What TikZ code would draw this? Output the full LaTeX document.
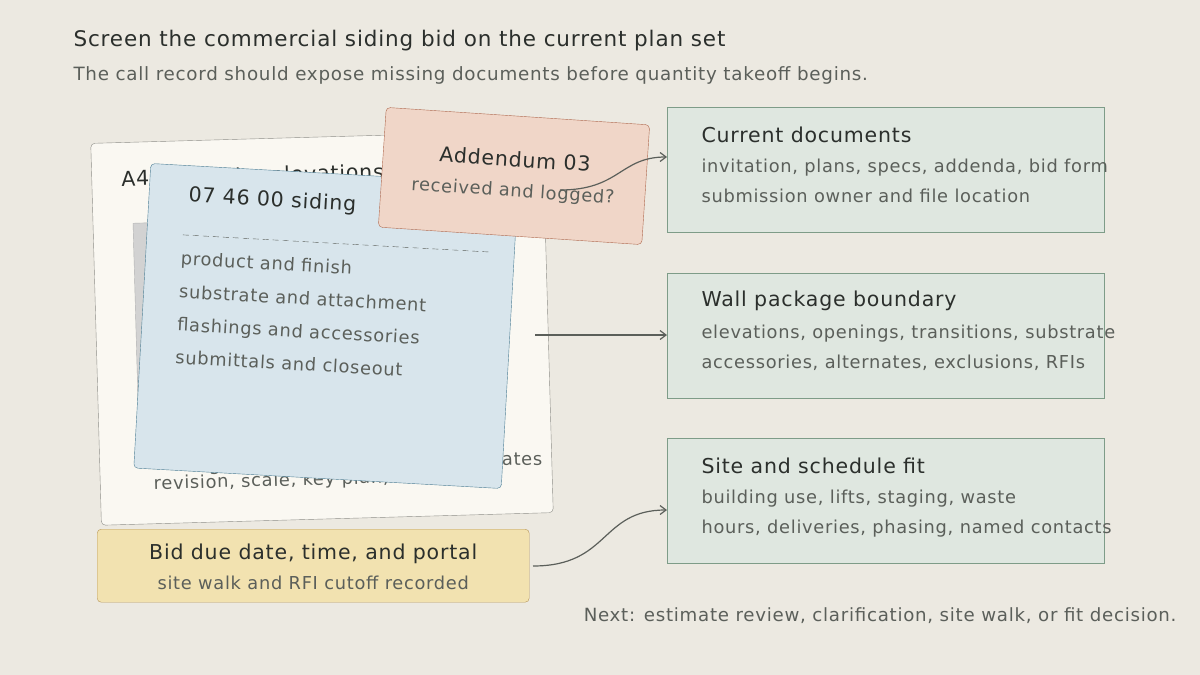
\documentclass[tikz,border=0pt]{standalone}
\usepackage{fontspec}
\setmainfont{DejaVu Sans}[LetterSpace=4]
\usetikzlibrary{arrows.meta}
\definecolor{bg}{HTML}{ECE9E1}
\definecolor{ink}{HTML}{2B2F2C}
\definecolor{sub}{HTML}{5B5F5A}
\definecolor{gfill}{HTML}{DFE7E0}
\definecolor{gline}{HTML}{7E9C88}
\definecolor{bfill}{HTML}{D8E5EC}
\definecolor{bline}{HTML}{4E7F95}
\definecolor{rfill}{HTML}{F0D6C8}
\definecolor{rline}{HTML}{B06A50}
\definecolor{yfill}{HTML}{F2E2B0}
\definecolor{yline}{HTML}{B8975A}
\definecolor{pfill}{HTML}{FAF8F2}
\definecolor{pline}{HTML}{8E8E88}
\begin{document}
\begin{tikzpicture}[x=1pt,y=-1pt,
  box/.style={draw=gline,fill=gfill,line width=0.8pt,minimum width=437pt,minimum height=125pt,anchor=north west},
  h/.style={font=\fontsize{20.5}{24}\selectfont,text=ink},
  t/.style={font=\fontsize{17.8}{30}\selectfont,text=sub},
  conn/.style={draw=sub,line width=1.2pt,-{Straight Barb[length=6pt,width=9pt]}}]
\fill[bg] (0,0) rectangle (1200,675);
\useasboundingbox (0,0) rectangle (1200,675);
\node[anchor=west,font=\fontsize{21.5}{24}\selectfont,text=ink] (title) at (70,41) {Screen the commercial siding bid on the current plan set};
\node[anchor=west,font=\fontsize{18.3}{20}\selectfont,text=sub] (subt) at (70,75) {The call record should expose missing documents before quantity takeoff begins.};
% back sheet
\begin{scope}[shift={(322,328)},rotate=1.6,transform shape]
\node[draw=pline,fill=pfill,rounded corners=4pt,minimum width=452pt,minimum height=382pt] (sheet) at (0,0) {};
\fill[gray!35,draw=gray!60] (-186,-110) rectangle (170,132);
\node[anchor=west,h] (st) at (-200,-155) {A4.2 exterior elevations};
\node[anchor=east,t] (sb1) at (220,138) {sheet index, key plan, notes, dates};
\node[anchor=west,t] (sb2) at (-176,152) {revision, scale, key plan, notes};
\end{scope}
% blue card
\begin{scope}[shift={(326,326)},rotate=-3.2,transform shape]
\node[draw=bline,fill=bfill,rounded corners=4pt,minimum width=368pt,minimum height=305pt] (spec) at (0,0) {};
\node[anchor=west,h] (sph) at (-148,-122) {07 46 00 siding};
\draw[sub,dash pattern=on 6pt off 4pt] (-148,-83) -- (158,-83);
\node[anchor=north west,t,align=left,font=\fontsize{17.8}{33}\selectfont] (spl) at (-152,-70) {product and finish\\substrate and attachment\\flashings and accessories\\submittals and closeout};
\end{scope}
% addendum
\begin{scope}[shift={(514,176)},rotate=-3.8,transform shape]
\node[draw=rline,fill=rfill,rounded corners=4pt,minimum width=264pt,minimum height=120pt] (add) at (0,0) {};
\node[h] (addh) at (0,-17) {Addendum 03};
\node[t] (adds) at (0,16) {received and logged?};
\end{scope}
% right boxes
\node[box] (b1) at (667,107) {};
\node[box] (b2) at (667,273) {};
\node[box] (b3) at (667,438) {};
\foreach \b/\hh/\la/\lb in {b1/Current documents/{invitation, plans, specs, addenda, bid form}/{submission owner and file location},
  b2/Wall package boundary/{elevations, openings, transitions, substrate}/{accessories, alternates, exclusions, RFIs},
  b3/Site and schedule fit/{building use, lifts, staging, waste}/{hours, deliveries, phasing, named contacts}}{
  \node[anchor=west,h] at ([shift={(31,28)}]\b.north west) {\hh};
  \node[anchor=north west,t,align=left] at ([shift={(31,48)}]\b.north west) {\la\\\lb};
}
% yellow
\node[draw=yline,fill=yfill,rounded corners=4pt,minimum width=432pt,minimum height=73pt,anchor=north west] (due) at (97,529) {};
\node[h] (dueh) at ([shift={(0,-12)}]due.center) {Bid due date, time, and portal};
\node[t] (dues) at ([shift={(0,17)}]due.center) {site walk and RFI cutoff recorded};
\coordinate (c1) at (560,190);
\coordinate (c2) at (535,335);
\coordinate (c3) at (533,566);
\draw[conn] (c1) .. controls (620,190) and (620,157) .. (b1.west |- 0,157);
\draw[conn] (c2) -- (b2.west |- 0,335);
\draw[conn] (c3) .. controls (610,566) and (600,510) .. (b3.west |- 0,510);
\node[anchor=east,font=\fontsize{18.2}{20}\selectfont,text=sub] (next) at (1180,616) {Next: estimate review, clarification, site walk, or fit decision.};
\end{tikzpicture}
\end{document}
